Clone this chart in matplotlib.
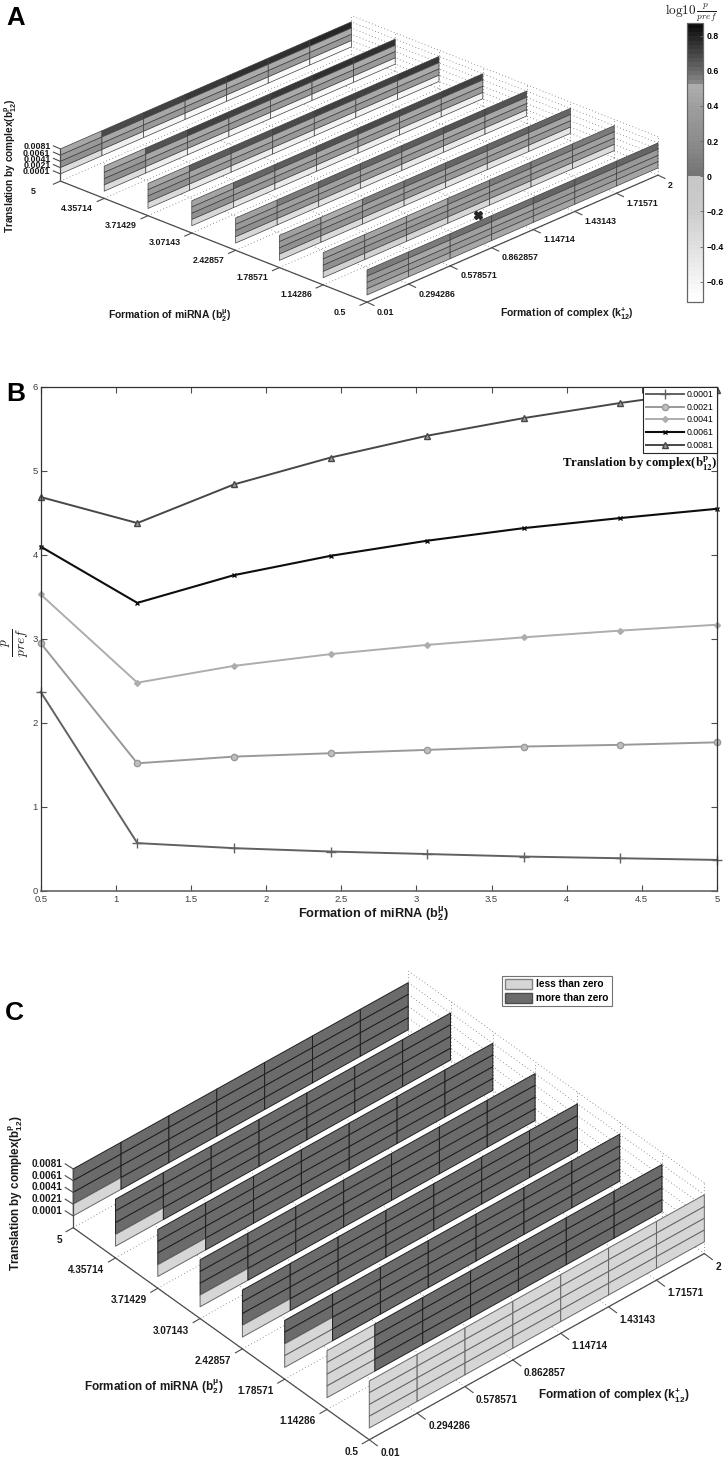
"""Three panel figure: miRNA slice plots (A, C) and p/pref line plot (B)."""
import matplotlib
matplotlib.use("Agg")
import matplotlib.pyplot as plt
import numpy as np
from matplotlib.cm import ScalarMappable
from matplotlib.collections import PolyCollection
from matplotlib.colors import BoundaryNorm, LinearSegmentedColormap, ListedColormap, Normalize
from matplotlib.patches import Patch

plt.rcParams["font.family"] = ["Liberation Sans", "DejaVu Sans"]
plt.rcParams["mathtext.fontset"] = "custom"
plt.rcParams["mathtext.rm"] = "Liberation Sans"
plt.rcParams["mathtext.it"] = "Liberation Sans:italic"
plt.rcParams["mathtext.bf"] = "Liberation Sans:bold"

K_LABELS = ["0.01", "0.294286", "0.578571", "0.862857", "1.14714", "1.43143", "1.71571", "2"]
B_LABELS = ["0.5", "1.14286", "1.78571", "2.42857", "3.07143", "3.71429", "4.35714", "5"]
LEVEL_LABELS = ["0.0001", "0.0021", "0.0041", "0.0061", "0.0081"]
K_VALUES = [float(s) for s in K_LABELS]
B_VALUES = [float(s) for s in B_LABELS]
LEVELS = [float(s) for s in LEVEL_LABELS]

# panel B, p/pref against b2 for each translation level
P_0001 = [2.37, 0.57, 0.51, 0.47, 0.44, 0.41, 0.39, 0.37]
P_0021 = [2.95, 1.52, 1.60, 1.64, 1.68, 1.72, 1.74, 1.77]
P_0041 = [3.53, 2.48, 2.68, 2.82, 2.93, 3.02, 3.10, 3.17]
P_0061 = [4.10, 3.43, 3.76, 3.99, 4.17, 4.32, 4.44, 4.55]
P_0081 = [4.69, 4.38, 4.84, 5.16, 5.42, 5.63, 5.81, 5.97]

# panel A, log10(p/pref) per slice: bands top to bottom, columns along k
A_B050 = [[.55, .56, .58, .59, .60, .61, .62],
          [.33, .46, .40, .40, .33, .33, .33],
          [.33, .33, .33, .33, .33, .33, .33],
          [.50, .48, .46, .46, .44, .44, .44]]
A_B114 = [[.38, .44, .46, .53, .55, .56, .57],
          [.33, .33, .36, .38, .38, .40, .40],
          [.25, .30, .30, .32, .32, .33, .33],
          [-.25, -.25, -.28, -.30, -.32, -.34, -.35]]
A_B179 = [[.40, .50, .57, .59, .60, .61, .62],
          [.33, .38, .40, .42, .42, .44, .44],
          [.25, .30, .30, .32, .33, .33, .33],
          [-.28, -.34, -.38, -.40, -.42, -.43, -.45]]
A_B243 = [[.42, .57, .61, .62, .64, .65, .66],
          [.33, .40, .42, .44, .44, .45, .45],
          [.25, .30, .32, .33, .33, .34, .34],
          [-.30, -.38, -.44, -.47, -.49, -.50, -.52]]
A_B307 = [[.44, .60, .64, .66, .68, .69, .70],
          [.33, .42, .44, .45, .46, .46, .47],
          [.25, .32, .32, .33, .33, .34, .34],
          [-.30, -.44, -.50, -.52, -.53, -.55, -.56]]
A_B371 = [[.45, .64, .67, .69, .71, .72, .73],
          [.33, .44, .45, .46, .47, .47, .48],
          [.24, .33, .33, .33, .34, .34, .35],
          [-.33, -.48, -.52, -.55, -.57, -.58, -.60]]
A_B436 = [[.46, .66, .70, .72, .74, .75, .76],
          [.33, .46, .47, .47, .48, .48, .49],
          [.22, .33, .33, .34, .34, .35, .35],
          [-.35, -.52, -.58, -.60, -.62, -.62, -.63]]
A_B500 = [[.46, .68, .72, .74, .76, .77, .78],
          [.33, .47, .47, .48, .48, .49, .49],
          [.25, .33, .33, .34, .34, .35, .35],
          [-.35, -.55, -.60, -.62, -.63, -.64, -.65]]
A_SLICES = [A_B050, A_B114, A_B179, A_B243, A_B307, A_B371, A_B436, A_B500]

# panel C, sign of log10(p/pref): same slice order, - is below zero
C_SLICES = [
    ["-------", "-------", "-------", "-------"],
    ["-++++++", "-++++++", "-++++++", "-++++++"],
    ["+++++++", "+++++++", "-++++++", "-++++++"],
    ["+++++++", "+++++++", "+++++++", "-++++++"],
    ["+++++++", "+++++++", "+++++++", "-++++++"],
    ["+++++++", "+++++++", "+++++++", "-++++++"],
    ["+++++++", "+++++++", "+++++++", "-++++++"],
    ["+++++++", "+++++++", "+++++++", "-++++++"],
]

# reference parameter set marked in panel A
REF_K = 1.025
REF_B = 1.055

GEOM_A = dict(x0=367.0, y0=295.0, kx=41.57, ky=-18.15, bx=-43.8, by=-17.3, zs=6.25, floor=-0.0022)
GEOM_C = dict(x0=369.3, y0=1428.0, kx=47.86, ky=-26.6, bx=-42.3, by=-30.3, zs=11.75, floor=-0.0019)

CMAP_A = LinearSegmentedColormap.from_list("log_ratio", [
    (0.000, "1.00"), (0.197, "0.88"), (0.324, "0.80"), (0.450, "0.78"), (0.4505, "0.45"),
    (0.577, "0.55"), (0.703, "0.62"), (0.779, "0.68"), (0.786, "0.55"), (0.830, "0.42"),
    (0.893, "0.28"), (1.000, "0.05")], N=64)
NORM_A = Normalize(-0.714, 0.87)


def project(g, k, b, z):
    ki = (k - K_VALUES[0]) / (K_VALUES[-1] - K_VALUES[0]) * 7
    bi = (b - B_VALUES[0]) / (B_VALUES[-1] - B_VALUES[0]) * 7
    zi = (z - LEVELS[0]) / (LEVELS[1] - LEVELS[0])
    return g["x0"] + ki * g["kx"] + bi * g["bx"], g["y0"] + ki * g["ky"] + bi * g["by"] - zi * g["zs"]


def slice_cells(g, b):
    cells = []
    for band in range(4):
        lo, hi = LEVELS[3 - band], LEVELS[4 - band]
        for c in range(7):
            cells.append([project(g, K_VALUES[c], b, lo), project(g, K_VALUES[c + 1], b, lo),
                          project(g, K_VALUES[c + 1], b, hi), project(g, K_VALUES[c], b, hi)])
    return cells


def draw_box(ax, g, lw_axis):
    dots = dict(color="0.45", lw=0.6, ls=(0, (1, 3)), zorder=1)
    ztop = LEVELS[-1] + 0.002
    for b in B_VALUES:
        ax.plot(*zip(project(g, K_VALUES[0], b, g["floor"]), project(g, K_VALUES[-1], b, g["floor"])), **dots)
        ax.plot(*zip(project(g, K_VALUES[-1], b, g["floor"]), project(g, K_VALUES[-1], b, ztop)), **dots)
    for k in K_VALUES:
        ax.plot(*zip(project(g, k, B_VALUES[0], g["floor"]), project(g, k, B_VALUES[-1], g["floor"])), **dots)
    for z in LEVELS + [ztop]:
        ax.plot(*zip(project(g, K_VALUES[-1], B_VALUES[0], z), project(g, K_VALUES[-1], B_VALUES[-1], z)), **dots)
    axis = dict(color="0.3", lw=lw_axis, zorder=4, solid_capstyle="butt")
    front = project(g, K_VALUES[0], B_VALUES[0], g["floor"])
    ax.plot(*zip(project(g, K_VALUES[0], B_VALUES[-1], g["floor"]), front), **axis)
    ax.plot(*zip(front, project(g, K_VALUES[-1], B_VALUES[0], g["floor"])), **axis)
    ax.plot(*zip(project(g, K_VALUES[0], B_VALUES[-1], g["floor"]), project(g, K_VALUES[0], B_VALUES[-1], LEVELS[-1])), **axis)


def draw_ticks(ax, g, fontsize, b_off, b_ha, k_off, z_right, tick):
    axis = dict(color="0.3", lw=0.8, zorder=4)
    for b, lab in zip(B_VALUES, B_LABELS):
        x, y = project(g, K_VALUES[0], b, g["floor"])
        ax.plot([x, x + tick["b"][0]], [y, y + tick["b"][1]], **axis)
        ax.text(x + b_off[0], y + b_off[1], lab, ha=b_ha, va="center", fontsize=fontsize, fontweight="bold", color="0.1")
    for k, lab in zip(K_VALUES, K_LABELS):
        x, y = project(g, k, B_VALUES[0], g["floor"])
        ax.plot([x, x + tick["k"][0]], [y, y + tick["k"][1]], **axis)
        ax.text(x + k_off[0], y + k_off[1], lab, ha="left", va="center", fontsize=fontsize, fontweight="bold", color="0.1")
    for z, lab in zip(LEVELS, LEVEL_LABELS):
        x, y = project(g, K_VALUES[0], B_VALUES[-1], z)
        ax.plot([x, x + tick["z"][0]], [y, y + tick["z"][1]], **axis)
        ax.text(x + z_right[0], y + z_right[1], lab, ha="right", va="center", fontsize=fontsize, fontweight="bold", color="0.1")


fig = plt.figure(figsize=(7.26, 14.66), dpi=100)
canvas = fig.add_axes([0, 0, 1, 1], zorder=2)
canvas.set_xlim(0, 726)
canvas.set_ylim(1466, 0)
canvas.axis("off")

# panel A
draw_box(canvas, GEOM_A, 0.9)
for b, vals in reversed(list(zip(B_VALUES, A_SLICES))):
    canvas.add_collection(PolyCollection(slice_cells(GEOM_A, b), array=np.ravel(vals), cmap=CMAP_A, norm=NORM_A,
                                         edgecolors="0.25", linewidths=0.5, zorder=3))
canvas.plot(*project(GEOM_A, REF_K, REF_B, LEVELS[0]), marker="X", ms=5.5, color="0.15", mec="0.15", zorder=5)
draw_ticks(canvas, GEOM_A, 6.4, (-27, 10), "center", (10, 10), (-10, -2),
           dict(b=(-7, 3.1), k=(7, 3.3), z=(-7, -3)))
canvas.text(170, 316, r"Formation of miRNA ($\mathbf{b}_{\mathbf{2}}^{\mathbf{\mu}}$)", ha="center", va="center",
            fontsize=7.5, fontweight="bold", color="0.1")
canvas.text(567, 314, r"Formation of complex ($\mathbf{k}_{\mathbf{12}}^{\mathbf{+}}$)", ha="center", va="center",
            fontsize=7.5, fontweight="bold", color="0.1")
canvas.text(11, 166, r"Translation by complex($\mathbf{b}_{\mathbf{12}}^{\mathbf{p}}$)", ha="center", va="center",
            rotation=90, fontsize=7.2, fontweight="bold", color="0.1")
canvas.text(6, 18, "A", ha="left", va="center", fontsize=18.5, fontweight="bold")

cax = fig.add_axes([687 / 726, 1 - 301.7 / 1466, 16.3 / 726, 278.4 / 1466], zorder=3)
cbar = fig.colorbar(ScalarMappable(norm=NORM_A, cmap=CMAP_A), cax=cax)
cbar.set_ticks([0.8, 0.6, 0.4, 0.2, 0, -0.2, -0.4, -0.6])
cbar.set_ticklabels(["0.8", "0.6", "0.4", "0.2", "0", "\u22120.2", "\u22120.4", "\u22120.6"])
cbar.ax.tick_params(direction="in", length=2.5, width=0.6, color="0.4", labelsize=6.2, pad=2.5)
for lab in cbar.ax.get_yticklabels():
    lab.set_fontweight("bold")
cbar.outline.set_edgecolor("0.4")
cbar.outline.set_linewidth(0.9)
canvas.text(691, 13, r"$\mathrm{log10}\,\frac{p}{pref}$", ha="center", va="center", fontsize=9.5,
            math_fontfamily="cm", color="0.1")

# panel B
ax = fig.add_axes([40.7 / 726, 1 - 891 / 1466, 676.3 / 726, 504 / 1466], zorder=1)
ax.plot(B_VALUES, P_0001, color="0.38", lw=1.4, marker="+", ms=6.5, mew=1.0, clip_on=False, label=LEVEL_LABELS[0])
ax.plot(B_VALUES, P_0021, color="0.6", lw=1.4, marker="o", ms=4.5, mfc="0.75", mew=1.0, clip_on=False, label=LEVEL_LABELS[1])
ax.plot(B_VALUES, P_0041, color="0.68", lw=1.4, marker="D", ms=3.0, clip_on=False, label=LEVEL_LABELS[2])
ax.plot(B_VALUES, P_0061, color="0.05", lw=1.5, marker="x", ms=3.5, mew=1.0, clip_on=False, label=LEVEL_LABELS[3])
ax.plot(B_VALUES, P_0081, color="0.28", lw=1.4, marker="^", ms=5.0, mfc="0.6", mew=1.0, clip_on=False, label=LEVEL_LABELS[4])
ax.set_xlim(0.5, 5)
ax.set_ylim(0, 6)
ax.set_xticks([0.5, 1, 1.5, 2, 2.5, 3, 3.5, 4, 4.5, 5])
ax.set_xticklabels(["0.5", "1", "1.5", "2", "2.5", "3", "3.5", "4", "4.5", "5"])
ax.set_yticks(range(7))
ax.tick_params(direction="in", top=True, right=True, length=4.3, width=0.8, color="0.3", labelsize=6.8,
               labelcolor="0.25", pad=2)
ax.tick_params(axis="x", pad=3.2)
for side in ax.spines.values():
    side.set_linewidth(0.9)
    side.set_color("0.2")
ax.spines["bottom"].set_color("0.4")
ax.spines["bottom"].set_linewidth(1.2)
ax.legend(loc="upper right", fontsize=6.3, borderaxespad=0, fancybox=False, framealpha=1, edgecolor="0.15",
          handlelength=4.4, handletextpad=0.3, labelspacing=0.42, borderpad=0.35).get_frame().set_linewidth(0.8)
canvas.text(374, 914, r"Formation of miRNA ($\mathbf{b}_{\mathbf{2}}^{\mathbf{\mu}}$)", ha="center", va="center",
            fontsize=9.2, fontweight="bold", color="0.1")
canvas.text(16, 642, r"$\frac{p}{pref}$", rotation=90, ha="center", va="center", fontsize=14, math_fontfamily="cm", color="0.1")
canvas.text(718, 464, r"Translation by complex($\mathbf{b}_{\mathbf{12}}^{\mathbf{p}}$)", ha="right", va="center",
            fontsize=9.2, family="Liberation Serif", fontweight="bold", math_fontfamily="stix", color="0.05")
canvas.text(6, 394, "B", ha="left", va="center", fontsize=19, fontweight="bold")

# panel C
draw_box(canvas, GEOM_C, 0.9)
CMAP_C = ListedColormap(["0.84", "0.42"])
NORM_C = BoundaryNorm([-2, 0, 2], 2)
for b, rows in reversed(list(zip(B_VALUES, C_SLICES))):
    signs = np.array([[-1 if ch == "-" else 1 for ch in row] for row in rows]).ravel()
    edges = ["0.4" if s < 0 else "0.12" for s in signs]
    canvas.add_collection(PolyCollection(slice_cells(GEOM_C, b), array=signs, cmap=CMAP_C, norm=NORM_C,
                                         edgecolors=edges, linewidths=0.7, zorder=3))
draw_ticks(canvas, GEOM_C, 7.2, (-11, 12), "right", (11, 13), (-11, -5),
           dict(b=(-7, 4), k=(8, 6), z=(-8, -5)))
canvas.text(154, 1387, r"Formation of miRNA ($\mathbf{b}_{\mathbf{2}}^{\mathbf{\mu}}$)", ha="center", va="center",
            fontsize=8.5, fontweight="bold", color="0.1")
canvas.text(614, 1395, r"Formation of complex ($\mathbf{k}_{\mathbf{12}}^{\mathbf{+}}$)", ha="center", va="center",
            fontsize=8.5, fontweight="bold", color="0.1")
canvas.text(16, 1193, r"Translation by complex($\mathbf{b}_{\mathbf{12}}^{\mathbf{p}}$)", ha="center", va="center",
            rotation=90, fontsize=8.4, fontweight="bold", color="0.1")
canvas.text(5, 1013, "C", ha="left", va="center", fontsize=19, fontweight="bold")
leg = canvas.legend(handles=[Patch(facecolor="0.84", edgecolor="0.5", label="less than zero"),
                             Patch(facecolor="0.42", edgecolor="0.3", label="more than zero")],
                    loc="upper left", bbox_to_anchor=(502, 975.7), bbox_transform=canvas.transData,
                    borderaxespad=0, fancybox=False, framealpha=1, edgecolor="0.45",
                    handlelength=2.7, handleheight=1.2, handletextpad=0.4, labelspacing=0.32, borderpad=0.3,
                    prop=dict(family="Liberation Sans", weight="bold", size=7.3))
leg.get_frame().set_linewidth(0.8)

fig.savefig("out.png", dpi=100)
